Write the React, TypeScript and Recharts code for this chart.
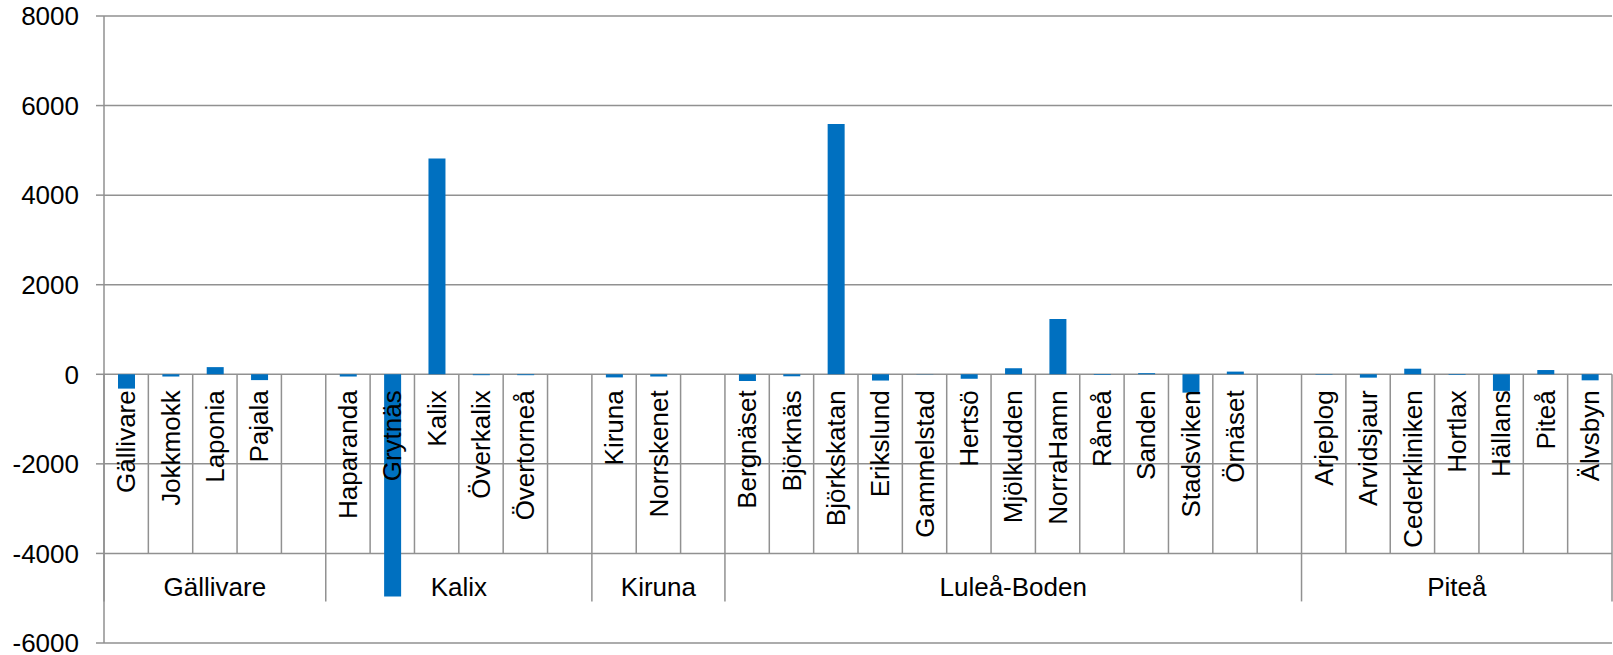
import { Bar, BarChart, CartesianGrid, XAxis, YAxis } from "recharts";

// Kategorier per område, tomma platser ("") skiljer grupperna åt
const categories = [
  "Gällivare", "Jokkmokk", "Laponia", "Pajala", "",
  "Haparanda", "Grytnäs", "Kalix", "Överkalix", "Övertorneå", "",
  "Kiruna", "Norrskenet", "",
  "Bergnäset", "Björknäs", "Björkskatan", "Erikslund", "Gammelstad", "Hertsö",
  "Mjölkudden", "NorraHamn", "Råneå", "Sanden", "Stadsviken", "Örnäset", "",
  "Arjeplog", "Arvidsjaur", "Cederkliniken", "Hortlax", "Hällans", "Piteå", "Älvsbyn",
];

const values: (number | null)[] = [
  -320, -50, 160, -130, null,
  -50, -4960, 4820, -20, -20, null,
  -70, -50, null,
  -150, -45, 5590, -140, -5, -100, 135, 1235, -15, 25, -410, 60, null,
  -10, -75, 125, -15, -370, 95, -135,
];

const groupNames = ["Gällivare", "Kalix", "Kiruna", "Luleå-Boden", "Piteå"];
const groupSizes = [5, 6, 3, 13, 7];

const yTicks = [-6000, -4000, -2000, 0, 2000, 4000, 6000, 8000];

const data = categories.map((name, i) => ({ name, value: values[i] }));

const W = 1613;
const H = 655;
const TOP = 16;
const AXIS_W = 104;
const X_AXIS_H = 12;
const PLOT_W = W - AXIS_W - 1;
const PLOT_H = H - TOP - X_AXIS_H;
const Y_MIN = -6000;
const Y_MAX = 8000;
const BLUE = "#0070C0";
const GRID = "#919191";
const FONT = "'Liberation Sans', Arial, sans-serif";
const FS = 26;

const yPos = (v: number) => TOP + (PLOT_H * (Y_MAX - v)) / (Y_MAX - Y_MIN);
const band = PLOT_W / categories.length;

// index -> gruppens index om kategorin inleder en grupp
const groupStart: Record<number, number> = {};
groupSizes.reduce((start, size, g) => {
  groupStart[start] = g;
  return start + size;
}, 0);

function CategoryTick(props: any) {
  const { x, index } = props;
  const name = categories[index];
  const zeroY = yPos(0);
  const rowBottom = yPos(-4000);
  const groupBottom = rowBottom + 48;
  const left = x - band / 2;
  const g = groupStart[index];
  const isLast = index === categories.length - 1;
  return (
    <g>
      <line
        x1={left}
        x2={left}
        y1={zeroY}
        y2={g !== undefined ? groupBottom : rowBottom}
        stroke={GRID}
        strokeWidth={1.5}
      />
      {isLast && (
        <line x1={x + band / 2} x2={x + band / 2} y1={zeroY} y2={groupBottom} stroke={GRID} strokeWidth={1.5} />
      )}
      {name && (
        <text
          transform={`translate(${x},${zeroY + 16}) rotate(-90)`}
          textAnchor="end"
          dy="0.35em"
          fontSize={FS}
          fill="#000"
        >
          {name}
        </text>
      )}
      {g !== undefined && (
        <text
          x={left + (groupSizes[g] * band) / 2}
          y={587}
          dy="0.35em"
          textAnchor="middle"
          fontSize={FS}
          fill="#000"
        >
          {groupNames[g]}
        </text>
      )}
    </g>
  );
}

export default function App() {
  return (
    <div style={{ position: "absolute", left: 0, top: 0, background: "#fff" }}>
      <BarChart
        width={W}
        height={H}
        data={data}
        margin={{ top: TOP, right: 1, bottom: 0, left: 0 }}
        style={{ fontFamily: FONT }}
      >
        <CartesianGrid vertical={false} stroke={GRID} strokeWidth={1.5} />
        <YAxis
          width={AXIS_W}
          domain={[Y_MIN, Y_MAX]}
          ticks={yTicks}
          interval={0}
          tickSize={8}
          tickMargin={17}
          axisLine={{ stroke: GRID, strokeWidth: 1.5 }}
          tickLine={{ stroke: GRID, strokeWidth: 1.5 }}
          tick={{ fill: "#000", fontSize: FS }}
        />
        <XAxis
          dataKey="name"
          height={X_AXIS_H}
          interval={0}
          axisLine={false}
          tickLine={false}
          tick={<CategoryTick />}
        />
        <Bar dataKey="value" fill={BLUE} barSize={17} isAnimationActive={false} />
      </BarChart>
    </div>
  );
}
